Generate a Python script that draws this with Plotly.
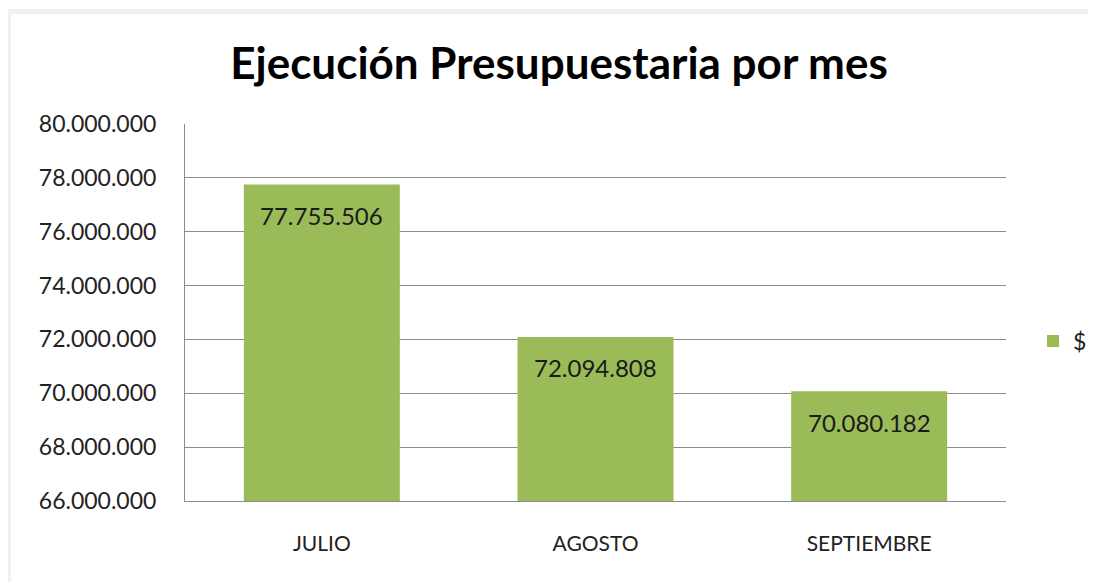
import plotly.graph_objects as go

categories = ["JULIO", "AGOSTO", "SEPTIEMBRE"]
values = [77755506, 72094808, 70080182]
tick_vals = [66000000, 68000000, 70000000, 72000000, 74000000, 76000000, 78000000, 80000000]
series_name = "$"


def fmt(v):
    return f"{v:,}".replace(",", ".")


tick_text = [fmt(v) for v in tick_vals]
labels = [fmt(v) for v in values]

# the page body has an 8px margin, so the figure is drawn 8px smaller and offset
OFF = 8
W, H = 1096 - OFF, 582 - OFF
L, R, T, B = 185 - OFF, 1006 - OFF, 124 - OFF, 501 - OFF

fig = go.Figure()
fig.add_trace(go.Bar(
    x=categories, y=values, name=series_name,
    marker=dict(color="#9bbb59", line=dict(width=0)),
    showlegend=True,
))

for c, v, t in zip(categories, values, labels):
    fig.add_annotation(x=c, y=v, text=t, showarrow=False, yanchor="middle",
                       yshift=-31, font=dict(family="Lato", size=24, color="#1a1a1a"))


def px(x):
    return (x - OFF - L) / (R - L)


def py(y):
    return (B - (y - OFF)) / (B - T)


shapes = [
    dict(type="rect", xref="paper", yref="paper", x0=px(7), x1=px(11), y0=py(600), y1=py(9),
         fillcolor="#f0f0f0", line=dict(width=0), layer="below"),
    dict(type="rect", xref="paper", yref="paper", x0=px(7), x1=px(1110), y0=py(14), y1=py(9),
         fillcolor="#f0f0f0", line=dict(width=0), layer="below"),
]

fig.update_layout(
    width=W, height=H,
    margin=dict(l=L, r=W - R, t=T, b=H - B, autoexpand=False),
    paper_bgcolor="white", plot_bgcolor="white",
    title=dict(text="<b>Ejecución Presupuestaria por mes</b>", x=px(559), xref="paper",
               y=1 - (64 - OFF) / H, yanchor="middle", xanchor="center",
               font=dict(family="Lato", size=44, color="#000000")),
    bargap=0.43,
    font=dict(family="Lato", color="#222222"),
    shapes=shapes,
    legend=dict(x=px(1033), y=py(341), xanchor="left", yanchor="middle",
                font=dict(family="Lato", size=23, color="#222222"),
                itemwidth=30, bgcolor="rgba(0,0,0,0)", traceorder="normal"),
)
fig.update_yaxes(range=[66000000, 80000000], tickvals=tick_vals, ticktext=tick_text,
                 showgrid=True, gridcolor="#8c8c8c", gridwidth=1,
                 showline=True, linecolor="#8c8c8c", linewidth=1,
                 ticks="", ticklabelstandoff=23,
                 tickfont=dict(family="Lato", size=23, color="#222222"), zeroline=False)
fig.update_xaxes(showline=True, linecolor="#8c8c8c", linewidth=1, ticks="",
                 tickfont=dict(family="Lato", size=21, color="#222222"),
                 ticklabelstandoff=24)

fig.write_html("out.html")
